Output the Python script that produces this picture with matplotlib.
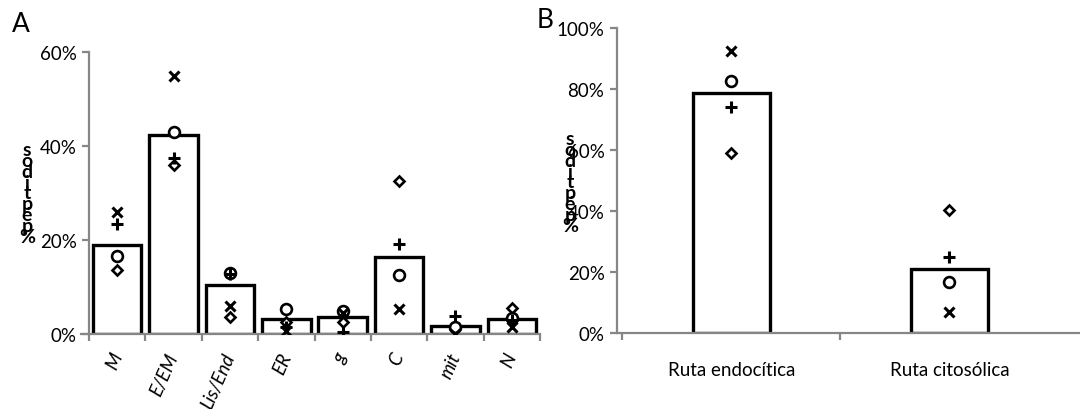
import matplotlib.pyplot as plt
from matplotlib.ticker import PercentFormatter

plt.rcParams["font.family"] = ["Lato", "DejaVu Sans"]

# panel A: localizacion subcelular
CATS_A = ["M", "E/EM", "Lis/End", "ER", "g", "C", "mit", "N"]
BAR_A = [19.0, 42.4, 10.4, 3.2, 3.6, 16.3, 1.6, 3.2]
CROSS_A = [26.0, 55.0, 5.9, 0.6, 4.4, 5.3, 0.0, 1.4]
PLUS_A = [23.3, 37.4, 12.7, 1.5, 0.5, 19.1, 3.9, 3.0]
CIRC_A = [16.5, 42.9, 13.0, 5.3, 4.8, 12.5, 1.5, 3.3]
DIAM_A = [13.7, 36.0, 3.7, 2.5, 2.5, 32.6, 1.1, 5.5]

# panel B: rutas
CATS_B = ["Ruta endocítica", "Ruta citosólica"]
BAR_B = [78.8, 21.2]
CROSS_B = [92.5, 6.9]
PLUS_B = [74.3, 25.1]
CIRC_B = [82.6, 16.7]
DIAM_B = [59.0, 40.3]

YLAB = "s\no\nd\ni\nt\np\né\np\n%"
GRAY = "#868686"


def style_axis(ax):
    for s in ["top", "right"]:
        ax.spines[s].set_visible(False)
    for s in ["left", "bottom"]:
        ax.spines[s].set_color(GRAY)
        ax.spines[s].set_linewidth(1.6)
    ax.tick_params(axis="y", colors=GRAY, width=1.6, length=5,
                   labelcolor="black", labelsize=13.5, pad=4)
    ax.tick_params(axis="x", which="major", length=0)
    ax.tick_params(axis="x", which="minor", colors=GRAY, width=1.6,
                   length=5)
    ax.yaxis.set_major_formatter(PercentFormatter(decimals=0))


def draw_points(ax, x, cross, plus, circ, diam):
    ax.plot(x, diam, "D", ms=5.4, mfc="white", mec="black", mew=1.9,
            ls="none", zorder=3)
    ax.plot(x, circ, "o", ms=7.8, mfc="white", mec="black", mew=1.9,
            ls="none", zorder=3)
    ax.plot(x, plus, "+", ms=8.5, mec="black", mew=2.2, ls="none", zorder=4)
    ax.plot(x, cross, "x", ms=7.8, mec="black", mew=2.2, ls="none", zorder=4)


fig = plt.figure(figsize=(10.8, 4.1), dpi=100)

# ******A
ax = fig.add_axes([89 / 1080, 75 / 410, 451 / 1080, 282 / 410])
xa = list(range(len(CATS_A)))
ax.bar(xa, BAR_A, width=0.86, color="white", edgecolor="black",
       linewidth=2.4, zorder=2)
draw_points(ax, xa, CROSS_A, PLUS_A, CIRC_A, DIAM_A)
ax.set_xlim(-0.5, len(CATS_A) - 0.5)
ax.set_ylim(0, 60)
ax.set_yticks([0, 20, 40, 60])
ax.set_xticks([i - 0.5 for i in range(len(CATS_A) + 1)], minor=True)
ax.set_xticks(xa)
ax.set_xticklabels(CATS_A, rotation=66, ha="right", va="center",
                   rotation_mode="anchor", fontsize=13.5, style="italic")
ax.tick_params(axis="x", which="major", pad=14)
style_axis(ax)
ax.spines["bottom"].set_bounds(-0.65, len(CATS_A) - 0.5)
fig.text(27 / 1080, 1 - 194 / 410, YLAB, ha="center", va="center",
         fontsize=14, fontweight="bold", linespacing=0.56)
fig.text(12 / 1080, 1 - 24 / 410, "A", ha="left", va="center", fontsize=19)

# ******B
ax2 = fig.add_axes([617 / 1080, 75.7 / 410, 470 / 1080, 305 / 410])
xb = list(range(len(CATS_B)))
ax2.bar(xb, BAR_B, width=0.35, color="white", edgecolor="black",
        linewidth=2.4, zorder=2)
draw_points(ax2, xb, CROSS_B, PLUS_B, CIRC_B, DIAM_B)
ax2.set_xlim(-0.525, -0.525 + 470 / 218)
ax2.set_ylim(0, 100)
ax2.set_yticks([0, 20, 40, 60, 80, 100])
ax2.set_xticks([-0.5, 0.5], minor=True)
ax2.set_xticks(xb)
ax2.set_xticklabels(CATS_B, fontsize=13.5)
ax2.tick_params(axis="x", which="major", pad=20)
style_axis(ax2)
fig.text(570 / 1080, 1 - 183 / 410, YLAB, ha="center", va="center",
         fontsize=14, fontweight="bold", linespacing=0.56)
fig.text(537 / 1080, 1 - 21 / 410, "B", ha="left", va="center", fontsize=19)

plt.savefig("out.png", dpi=100)
